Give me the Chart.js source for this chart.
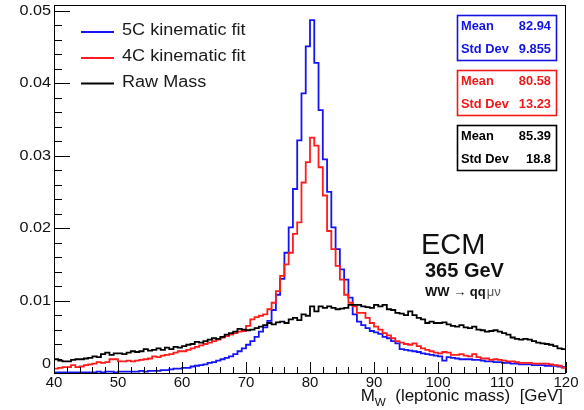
<!DOCTYPE html>
<html><head><meta charset="utf-8">
<script src="https://cdn.jsdelivr.net/npm/chart.js@4/dist/chart.umd.min.js"></script>
<style>html,body{margin:0;padding:0;background:#fff}canvas{display:block}</style>
</head><body>
<canvas id="c" width="584" height="410"></canvas>
<script>
// ---- data ----
const X_MIN = 40, X_MAX = 120, N_BINS = 120;
const seriesLabels = ['5C kinematic fit', '4C kinematic fit', 'Raw Mass'];
const seriesColors = ['#1414f5', '#ff1c1c', '#000000'];

const fit5C = [
0.0001,0.0001,0.0001,0.0001,0.0001,0.0001,0.0001,0.0001,0.0001,0.0001,
0.0002,0.0001,0.0002,0.0002,0.0001,0.0002,0.0002,0.0002,0.0002,0.0002,
0.0003,0.0002,0.0003,0.0003,0.0003,0.0004,0.0004,0.0005,0.0006,0.0006,
0.0007,0.0007,0.0009,0.0010,0.0011,0.0012,0.0014,0.0015,0.0017,0.0019,
0.0021,0.0023,0.0026,0.0030,0.0034,0.0039,0.0044,0.0050,0.0057,0.0063,
0.0072,0.0087,0.0108,0.0130,0.0166,0.0201,0.0254,0.0321,0.0386,0.0451,
0.0487,0.0428,0.0363,0.0295,0.0250,0.0201,0.0171,0.0143,0.0129,0.0104,
0.0081,0.0071,0.0066,0.0062,0.0058,0.0056,0.0054,0.0050,0.0048,0.0044,
0.0041,0.0033,0.0032,0.0031,0.0030,0.0029,0.0027,0.0026,0.0025,0.0024,
0.0023,0.0017,0.0022,0.0021,0.0020,0.0019,0.0019,0.0019,0.0018,0.0018,
0.0017,0.0016,0.0016,0.0015,0.0015,0.0014,0.0014,0.0013,0.0013,0.0012,
0.0012,0.0012,0.0011,0.0011,0.0011,0.0010,0.0010,0.0010,0.0009,0.0008];

const fit4C = [
0.0006,0.0007,0.0008,0.0008,0.0011,0.0008,0.0009,0.0011,0.0012,0.0013,
0.0015,0.0014,0.0015,0.0019,0.0019,0.0016,0.0016,0.0017,0.0016,0.0017,
0.0018,0.0019,0.0020,0.0023,0.0022,0.0024,0.0025,0.0026,0.0028,0.0030,
0.0030,0.0032,0.0034,0.0036,0.0038,0.0040,0.0042,0.0044,0.0046,0.0049,
0.0051,0.0053,0.0055,0.0057,0.0058,0.0065,0.0074,0.0077,0.0079,0.0081,
0.0088,0.0097,0.0113,0.0134,0.0150,0.0166,0.0192,0.0208,0.0263,0.0291,
0.0325,0.0314,0.0284,0.0245,0.0196,0.0171,0.0148,0.0129,0.0108,0.0097,
0.0092,0.0083,0.0083,0.0076,0.0069,0.0064,0.0060,0.0055,0.0052,0.0048,
0.0044,0.0042,0.0040,0.0039,0.0041,0.0037,0.0034,0.0032,0.0030,0.0028,
0.0027,0.0029,0.0028,0.0025,0.0025,0.0026,0.0024,0.0023,0.0026,0.0022,
0.0020,0.0020,0.0018,0.0019,0.0018,0.0017,0.0016,0.0016,0.0015,0.0014,
0.0014,0.0014,0.0013,0.0013,0.0013,0.0013,0.0012,0.0011,0.0010,0.0007];

const rawMass = [
0.0019,0.0017,0.0016,0.0016,0.0018,0.0019,0.0019,0.0020,0.0021,0.0023,
0.0022,0.0026,0.0028,0.0025,0.0027,0.0027,0.0026,0.0028,0.0030,0.0029,
0.0030,0.0033,0.0031,0.0032,0.0034,0.0032,0.0035,0.0033,0.0036,0.0035,
0.0037,0.0039,0.0040,0.0043,0.0042,0.0044,0.0046,0.0048,0.0047,0.0050,
0.0053,0.0055,0.0057,0.0061,0.0060,0.0059,0.0060,0.0062,0.0064,0.0066,
0.0069,0.0067,0.0070,0.0071,0.0069,0.0074,0.0076,0.0073,0.0081,0.0079,
0.0092,0.0085,0.0092,0.0090,0.0092,0.0090,0.0088,0.0089,0.0090,0.0094,
0.0094,0.0094,0.0092,0.0091,0.0090,0.0094,0.0092,0.0094,0.0088,0.0087,
0.0083,0.0082,0.0080,0.0085,0.0080,0.0076,0.0074,0.0069,0.0071,0.0069,
0.0069,0.0070,0.0067,0.0065,0.0064,0.0066,0.0063,0.0062,0.0064,0.0060,
0.0059,0.0057,0.0058,0.0059,0.0057,0.0055,0.0053,0.0049,0.0047,0.0046,
0.0047,0.0046,0.0044,0.0042,0.0041,0.0040,0.0039,0.0037,0.0034,0.0033];

const statMeans   = ['82.94', '80.58', '85.39'];
const statStdDevs = ['9.855', '13.23', '18.8'];
const xMajorTicks = [40, 50, 60, 70, 80, 90, 100, 110, 120];
const yMajorTicks = [0, 0.01, 0.02, 0.03, 0.04, 0.05];
const yTickLabels = ['0', '0.01', '0.02', '0.03', '0.04', '0.05'];
const Y_MAX = 0.0508;

// ---- build ----
const binEdges = Array.from({length: N_BINS + 1}, (_, i) => X_MIN + i * (X_MAX - X_MIN) / N_BINS);
function histPoints(vals) {
  return binEdges.map((x, i) => ({x: x, y: vals[Math.min(i, vals.length - 1)]}));
}

const FONT = "'Liberation Sans', Arial, Helvetica, sans-serif";

function txt(ctx, s, x, y, font, color, align, hs) {
  ctx.save();
  ctx.font = font;
  ctx.fillStyle = color;
  ctx.textBaseline = 'middle';
  ctx.textAlign = align || 'left';
  ctx.translate(x, y);
  ctx.scale(hs || 1, 1);
  ctx.fillText(s, 0, 0);
  ctx.restore();
}

const decor = {
  id: 'decor',
  afterDraw(chart) {
    const ctx = chart.ctx;
    const {left, right, top, bottom} = chart.chartArea;
    const xs = chart.scales.x, ys = chart.scales.y;
    ctx.save();
    ctx.strokeStyle = '#000';
    ctx.lineWidth = 1;
    // frame
    ctx.strokeRect(Math.round(left) + 0.5, Math.round(top) + 0.5,
                   Math.round(right - left) - 1, Math.round(bottom - top));
    // y ticks (inside)
    ctx.beginPath();
    for (let i = 0; i * 0.002 <= Y_MAX + 1e-9; i++) {
      const py = Math.round(ys.getPixelForValue(i * 0.002)) + 0.5;
      const len = (i % 5 === 0) ? 16 : 8;
      ctx.moveTo(left, py); ctx.lineTo(left + len, py);
    }
    // x ticks (inside)
    for (let m = X_MIN; m <= X_MAX; m += 2) {
      const px = Math.round(xs.getPixelForValue(m)) + 0.5;
      const len = (m % 10 === 0) ? 11 : 6;
      ctx.moveTo(px, bottom); ctx.lineTo(px, bottom - len);
    }
    ctx.stroke();
    ctx.restore();

    // y tick labels
    yMajorTicks.forEach((v, i) => {
      const py = ys.getPixelForValue(v) - (i === 0 ? 9 : 0);
      txt(ctx, yTickLabels[i], left - 3, py, '15px ' + FONT, '#111', 'right', 1.08);
    });

    // legend
    const legY = [32, 58, 83.5];
    for (let i = 0; i < 3; i++) {
      ctx.save();
      ctx.strokeStyle = seriesColors[i];
      ctx.lineWidth = 2;
      ctx.beginPath(); ctx.moveTo(81, legY[i]); ctx.lineTo(114, legY[i]); ctx.stroke();
      ctx.restore();
      txt(ctx, seriesLabels[i], 122, legY[i] - 1, '16px ' + FONT, '#1a1a1a', 'left', 1.13);
    }

    // stats boxes
    const boxTop = [15, 70, 125];
    const statColors = ['#1414e0', '#f01818', '#000000'];
    for (let i = 0; i < 3; i++) {
      ctx.save();
      ctx.fillStyle = '#fff';
      ctx.fillRect(457, boxTop[i], 100, 46);
      ctx.strokeStyle = statColors[i];
      ctx.lineWidth = 1.6;
      ctx.strokeRect(457.5, boxTop[i] + 0.5, 99, 45);
      ctx.restore();
      const f = 'bold 12px ' + FONT;
      txt(ctx, 'Mean', 461, boxTop[i] + 12, f, statColors[i], 'left', 1.07);
      txt(ctx, statMeans[i], 551, boxTop[i] + 12, f, statColors[i], 'right', 1.07);
      txt(ctx, 'Std Dev', 461, boxTop[i] + 35, f, statColors[i], 'left', 1.07);
      txt(ctx, statStdDevs[i], 551, boxTop[i] + 35, f, statColors[i], 'right', 1.07);
    }

    // ECM annotation
    txt(ctx, 'ECM', 421, 246, '29px ' + FONT, '#111', 'left', 1.0);
    txt(ctx, '365 GeV', 425, 271, 'bold 20px ' + FONT, '#111', 'left', 1.0);
    ctx.save();
    ctx.font = 'bold 13px ' + FONT;
    const w1 = ctx.measureText('WW \u2192 qq').width;
    ctx.restore();
    txt(ctx, 'WW \u2192 qq', 425, 292, 'bold 13px ' + FONT, '#111', 'left', 1.0);
    txt(ctx, '\u03bc\u03bd', 425 + w1 + 1, 292, '13px ' + FONT, '#555', 'left', 1.0);

    // x-axis title: M_W (leptonic mass) [GeV]
    ctx.save();
    const hs = 1.06;
    ctx.font = '16px ' + FONT;
    const wM = ctx.measureText('M').width;
    const rest = '  (leptonic mass)  [GeV]';
    const wR = ctx.measureText(rest).width;
    ctx.font = '11px ' + FONT;
    const wW = ctx.measureText('W').width;
    ctx.restore();
    const total = (wM + wW + wR) * hs;
    const x0 = 563 - total;
    txt(ctx, 'M', x0, 397, '16px ' + FONT, '#111', 'left', hs);
    txt(ctx, 'W', x0 + wM * hs, 403, '11px ' + FONT, '#111', 'left', hs);
    txt(ctx, rest, x0 + (wM + wW) * hs, 397, '16px ' + FONT, '#111', 'left', hs);
  }
};

const mk = (label, vals, color) => ({
  label: label, data: histPoints(vals), borderColor: color, borderWidth: 1.8,
  stepped: 'before', pointRadius: 0, fill: false, tension: 0
});

new Chart(document.getElementById('c'), {
  type: 'line',
  data: {
    // drawn order: last dataset first -> blue, red, then black on top
    datasets: [
      mk(seriesLabels[2], rawMass, seriesColors[2]),
      mk(seriesLabels[1], fit4C, seriesColors[1]),
      mk(seriesLabels[0], fit5C, seriesColors[0])
    ]
  },
  options: {
    responsive: false,
    devicePixelRatio: 1,
    animation: false,
    layout: {padding: {left: 0, right: 18, top: 5, bottom: 0}},
    plugins: {legend: {display: false}, tooltip: {enabled: false}},
    scales: {
      x: {
        type: 'linear', min: X_MIN, max: X_MAX,
        afterBuildTicks: s => { s.ticks = xMajorTicks.map(v => ({value: v})); },
        afterFit: s => { s.height = 37; s.paddingLeft = 0; s.paddingRight = 0; },
        grid: {display: false, drawTicks: false},
        border: {display: false},
        ticks: {padding: 1, maxRotation: 0, autoSkip: false, color: '#111',
                font: {family: FONT, size: 15},
                callback: v => String(v)}
      },
      y: {
        type: 'linear', min: 0, max: Y_MAX,
        afterBuildTicks: s => { s.ticks = yMajorTicks.map(v => ({value: v})); },
        afterFit: s => { s.width = 54; s.paddingTop = 0; s.paddingBottom = 0; },
        grid: {display: false, drawTicks: false},
        border: {display: false},
        ticks: {display: false}
      }
    }
  },
  plugins: [decor]
});
</script>
</body></html>
